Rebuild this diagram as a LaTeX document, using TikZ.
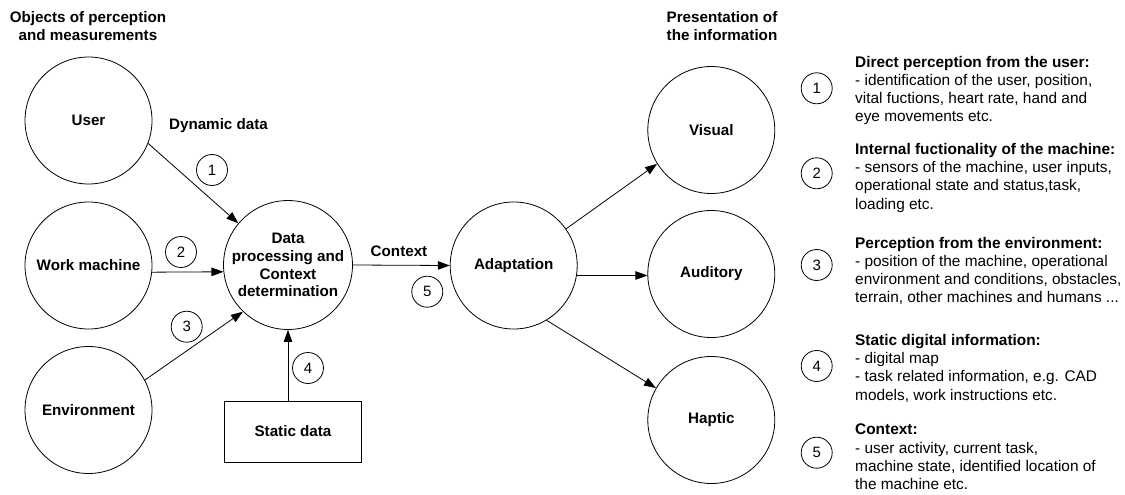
\documentclass[tikz,border=0pt]{standalone}
\usepackage{fontspec}
\setmainfont{Liberation Sans}
\usetikzlibrary{arrows.meta}
\newcommand\lblfont{\fontsize{15.2}{17.8}\selectfont\bfseries}
\newcommand\numfont{\fontsize{15}{17}\selectfont}
\newcommand\bodyfont{\fontsize{15.4}{18.3}\selectfont}
\begin{document}
\begin{tikzpicture}[x=1pt,y=-1pt,
  big/.style={circle,draw,line width=0.8pt,minimum size=127pt,inner sep=0pt,align=center,font=\lblfont},
  num/.style={circle,draw,line width=0.8pt,minimum size=31pt,inner sep=0pt,font=\numfont},
  boxnode/.style={draw,line width=0.8pt,minimum width=137pt,minimum height=61pt,inner sep=0pt,font=\lblfont},
  title/.style={align=center,font=\lblfont,inner sep=0pt},
  note/.style={anchor=north west,align=left,font=\bodyfont,inner sep=0pt},
  arr/.style={-{Triangle[length=12pt,width=8.5pt]},line width=0.8pt}]
\useasboundingbox[fill=white] (0,0) rectangle (1125,495);

% column titles
\node[title] (ttlL) at (88,26) {Objects of perception\\and measurements};
\node[title] (ttlR) at (722,26) {Presentation of\\the information};

% sources of data
\node[big] (user) at (88.5,120.5) {User};
\node[big] (wm)   at (88.5,265.5) {Work machine};
\node[big] (env)  at (88.5,410)   {Environment};
\node[boxnode] (static) at (293,431.5) {Static data};

% processing chain
\node[big] (data)  at (288,265) {Data\\processing and\\Context\\determination};
\node[big] (adapt) at (513.7,265.5) {Adaptation};

% output modalities
\node[big] (vis) at (711.3,130) {Visual};
\node[big] (aud) at (711.3,274) {Auditory};
\node[big] (hap) at (711.3,420) {Haptic};

% connector labels
\node[title] (dyn) at (218.5,126) {Dynamic data};
\node[title] (ctx) at (399,251) {Context};
\node[num] (n1) at (212,170) {1};
\node[num] (n2) at (181,252) {2};
\node[num] (n3) at (186.7,326.7) {3};
\node[num] (n4) at (308,368) {4};
\node[num] (n5) at (427.3,291.7) {5};

% connectors
\draw[arr] (user.-21) -- (data.140);
\draw[arr] (wm.-6) -- (data.186);
\draw[arr] (env.28) -- (data.226);
\draw[arr] (static.north -| data.south) -- (data.south);
\draw[arr] (data.east) -- (adapt.west);
\draw[arr] (adapt.35) -- (vis.212);
\draw[arr] (adapt.-9) -- (adapt.-9 -| aud.west);
\draw[arr] (adapt.-59) -- (hap.150);

% legend
\node[num] (k1) at (816.7,88.3)  {1};
\node[num] (k2) at (816.7,173.3) {2};
\node[num] (k3) at (816.7,265)   {3};
\node[num] (k4) at (816.7,366)   {4};
\node[num] (k5) at (816.7,452.7) {5};
\node[note] (t1) at (855,55.7) {\textbf{Direct perception from the user:}\\- identification of the user, position,\\vital fuctions, heart rate, hand and\\eye movements etc.};
\node[note] (t2) at (855,143) {\textbf{Internal fuctionality of the machine:}\\- sensors of the machine, user inputs,\\operational state and status,task,\\loading etc.};
\node[note] (t3) at (855,236.7) {\textbf{Perception from the environment:}\\- position of the machine, operational\\environment and conditions, obstacles,\\terrain, other machines and humans ...};
\node[note] (t4) at (855,334) {\textbf{Static digital information:}\\- digital map\\- task related information, e.g. CAD\\models, work instructions etc.};
\node[note] (t5) at (855,424) {\textbf{Context:}\\- user activity, current task,\\machine state, identified location of\\the machine etc.};
\end{tikzpicture}
\end{document}
